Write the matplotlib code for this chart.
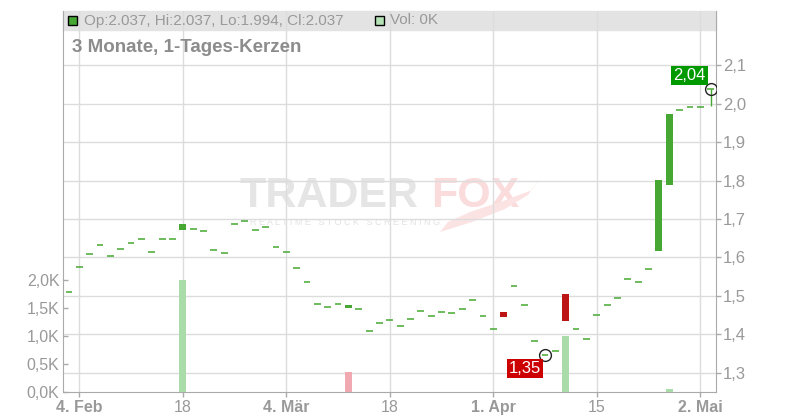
import numpy as np
import matplotlib.pyplot as plt
from matplotlib.patches import Rectangle, Polygon

plt.rcParams['font.family'] = ['Liberation Sans', 'DejaVu Sans']

# trading day index, 0 = 4. Feb
days = np.arange(-1, 62)
tick_idx = [0, 10, 20, 30, 40, 50, 60]
tick_labels = ['4. Feb', '18', '4. Mär', '18', '1. Apr', '15', '2. Mai']
tick_bold = [True, False, True, False, True, False, True]

opens = [1.510, 1.575, 1.608, 1.632, 1.603, 1.621, 1.637, 1.647, 1.614, 1.647,
         1.647, 1.672, 1.673, 1.668, 1.619, 1.611, 1.686, 1.694, 1.671, 1.679,
         1.626, 1.614, 1.572, 1.536, 1.478, 1.471, 1.478, 1.470, 1.465, 1.408,
         1.429, 1.437, 1.421, 1.439, 1.460, 1.447, 1.458, 1.455, 1.465, 1.489,
         1.447, 1.414, 1.458, 1.525, 1.476, 1.382, 1.346, 1.356, 1.505, 1.414,
         1.388, 1.450, 1.476, 1.494, 1.543, 1.536, 1.569, 1.617, 1.788, 1.982,
         1.990, 1.990, 2.037]
closes = [1.510, 1.575, 1.608, 1.632, 1.603, 1.621, 1.637, 1.647, 1.614, 1.647,
          1.647, 1.687, 1.673, 1.668, 1.619, 1.611, 1.686, 1.694, 1.671, 1.679,
          1.626, 1.614, 1.572, 1.536, 1.478, 1.471, 1.478, 1.477, 1.465, 1.408,
          1.429, 1.437, 1.421, 1.439, 1.460, 1.447, 1.458, 1.455, 1.465, 1.489,
          1.447, 1.414, 1.446, 1.525, 1.476, 1.382, 1.346, 1.356, 1.435, 1.414,
          1.388, 1.450, 1.476, 1.494, 1.543, 1.536, 1.569, 1.801, 1.973, 1.982,
          1.990, 1.990, 2.037]
highs = [1.510, 1.575, 1.608, 1.632, 1.603, 1.621, 1.637, 1.647, 1.614, 1.647,
         1.647, 1.687, 1.673, 1.668, 1.619, 1.611, 1.686, 1.694, 1.671, 1.679,
         1.626, 1.614, 1.572, 1.536, 1.478, 1.471, 1.478, 1.477, 1.465, 1.408,
         1.429, 1.437, 1.421, 1.439, 1.460, 1.447, 1.458, 1.455, 1.465, 1.489,
         1.447, 1.414, 1.458, 1.525, 1.476, 1.382, 1.346, 1.356, 1.505, 1.414,
         1.388, 1.450, 1.476, 1.494, 1.543, 1.536, 1.569, 1.801, 1.973, 1.982,
         1.990, 1.990, 2.037]
lows = [1.510, 1.575, 1.608, 1.632, 1.603, 1.621, 1.637, 1.647, 1.614, 1.647,
        1.647, 1.672, 1.673, 1.668, 1.619, 1.611, 1.686, 1.694, 1.671, 1.679,
        1.626, 1.614, 1.572, 1.536, 1.478, 1.471, 1.478, 1.470, 1.465, 1.408,
        1.429, 1.437, 1.421, 1.439, 1.460, 1.447, 1.458, 1.455, 1.465, 1.489,
        1.447, 1.414, 1.446, 1.525, 1.476, 1.382, 1.346, 1.356, 1.435, 1.414,
        1.388, 1.450, 1.476, 1.494, 1.543, 1.536, 1.569, 1.617, 1.788, 1.982,
        1.990, 1.990, 1.994]
volumes = [0, 0, 0, 0, 0, 0, 0, 0, 0, 0,
           0, 2000, 0, 0, 0, 0, 0, 0, 0, 0,
           0, 0, 0, 0, 0, 0, 0, 357, 0, 0,
           0, 0, 0, 0, 0, 0, 0, 0, 0, 0,
           0, 0, 0, 0, 0, 0, 0, 0, 1000, 0,
           0, 0, 0, 0, 0, 0, 0, 0, 60, 0,
           0, 0, 0]
price_ticks = [1.3, 1.4, 1.5, 1.6, 1.7, 1.8, 1.9, 2.0, 2.1]
vol_ticks = [0, 500, 1000, 1500, 2000]
low_mark = (45, 1.346, '1,35')
high_mark = (61, 2.037, '2,04')

green = '#46a832'
red = '#bb1515'
vgreen = '#a9dca9'
vred = '#f0a9b1'
grid_c = '#dcdcdc'
axis_c = '#aaaaaa'
text_c = '#999999'

fig = plt.figure(figsize=(8, 4.2), dpi=100)
ax = fig.add_axes([63 / 800, 28 / 420, 653 / 800, 381 / 420])
axv = ax.twinx()
axc = ax.twinx()

xlim = (-1.575, 61.52)
ylim = (1.2506, 2.2403)
for a in (ax, axc):
    a.set_xlim(*xlim)
    a.set_ylim(*ylim)
axv.set_ylim(0, 6804)

# price axis (right) with grid
ax.set_axisbelow(True)
ax.yaxis.tick_right()
ax.set_yticks(price_ticks)
ax.set_yticklabels([f'{t:.1f}'.replace('.', ',') for t in price_ticks])
ax.set_xticks(tick_idx)
ax.set_xticklabels(tick_labels)
for lab, b in zip(ax.get_xticklabels(), tick_bold):
    lab.set_fontweight('bold' if b else 'normal')
ax.grid(True, color=grid_c, lw=1)
ax.tick_params(axis='y', direction='out', length=3.6, width=1, color=axis_c,
               labelcolor=text_c, labelsize=12, pad=1.5)
ax.tick_params(axis='x', direction='out', length=3.6, width=1, color=axis_c,
               labelcolor=text_c, labelsize=11.5, pad=2)
for s in ('top', 'left'):
    ax.spines[s].set_visible(False)
for s in ('right', 'bottom'):
    ax.spines[s].set_color(axis_c)

# volume axis (left)
axv.yaxis.tick_left()
axv.set_yticks(vol_ticks)
axv.set_yticklabels([f'{v / 1000:.1f}K'.replace('.', ',') for v in vol_ticks])
axv.tick_params(axis='y', direction='in', length=3.6, width=1, color=axis_c,
                labelcolor=text_c, labelsize=11.5, pad=2.5)
for s in ('top', 'right', 'bottom'):
    axv.spines[s].set_visible(False)
axv.spines['left'].set_color(axis_c)
vcols = [vgreen]
for i in range(1, len(closes)):
    vcols.append(vgreen if closes[i] >= closes[i - 1] else vred)
axv.bar(days, volumes, width=0.66, color=vcols, zorder=2)

# candles
axc.axis('off')
w = 0.66
for d, o, h, l, c in zip(days, opens, highs, lows, closes):
    col = green if c >= o else red
    if h > max(o, c):
        axc.vlines(d, max(o, c), h, color=col, lw=1)
    if l < min(o, c):
        axc.vlines(d, l, min(o, c), color=col, lw=1)
    if abs(c - o) < 0.004:
        axc.hlines(c, d - w / 2, d + w / 2, color=col, lw=1.1)
    else:
        axc.bar(d, abs(c - o), bottom=min(o, c), width=w, color=col)

# high / low markers
for (d, p, txt), off, fc in ((low_mark, (-20, -13), '#cc0000'),
                              (high_mark, (-21, 14), '#009900')):
    axc.plot(d, p, 'o', ms=8.5, mfc='none', mec='#222222', mew=1)
    axc.annotate(txt, xy=(d, p), xytext=off, textcoords='offset pixels',
                 ha='center', va='center', color='white', fontsize=12,
                 bbox=dict(boxstyle='square,pad=0.12', fc=fc, ec='none'))

# legend band and watermark
ax.add_patch(Rectangle((0, 0.950), 1, 0.050, transform=ax.transAxes,
                       color='#e3e3e3', zorder=0.3, clip_on=False))
ax.text(0.271, 0.486, 'TRADER', transform=ax.transAxes, fontsize=31,
        fontweight='bold', color='#e5e5e5', va='baseline', zorder=0.3)
ax.text(0.563, 0.486, 'FOX', transform=ax.transAxes, fontsize=31,
        fontweight='bold', color='#fbdcdc', va='baseline', zorder=0.3)
ax.text(0.286, 0.446, ' '.join('REALTIME') + '   ' + ' '.join('STOCK') + '   '
        + ' '.join('SCREENING'), transform=ax.transAxes, fontsize=6.5,
        color='#e2e2e2', va='center', zorder=0.3)
tail_px = [(440, 232), (472, 222), (505, 209), (528, 195), (540, 178),
           (532, 190), (503, 201), (470, 212), (448, 222)]
ax.add_patch(Polygon([((x - 63) / 653, (392 - y) / 381) for x, y in tail_px],
                     closed=True, transform=ax.transAxes, fc='#fce3e3',
                     ec='none', zorder=0.3))

fig.add_artist(Rectangle((68 / 800, 1 - 25 / 420), 9 / 800, 9 / 420,
                         transform=fig.transFigure, fc=green, ec='black', lw=1))
fig.text(84 / 800, 1 - 20.5 / 420, 'Op:2.037, Hi:2.037, Lo:1.994, Cl:2.037',
         fontsize=11, color=text_c, va='center')
fig.add_artist(Rectangle((375 / 800, 1 - 25 / 420), 9 / 800, 9 / 420,
                         transform=fig.transFigure, fc='#b5e3b5', ec='black', lw=1))
fig.text(390 / 800, 1 - 20.5 / 420, 'Vol: 0K', fontsize=11, color=text_c,
         va='center')
fig.text(72 / 800, 1 - 47.5 / 420, '3 Monate, 1-Tages-Kerzen', fontsize=13.5,
         fontweight='bold', color='#8c8c8c', va='center')

fig.savefig('out.png', dpi=100)
